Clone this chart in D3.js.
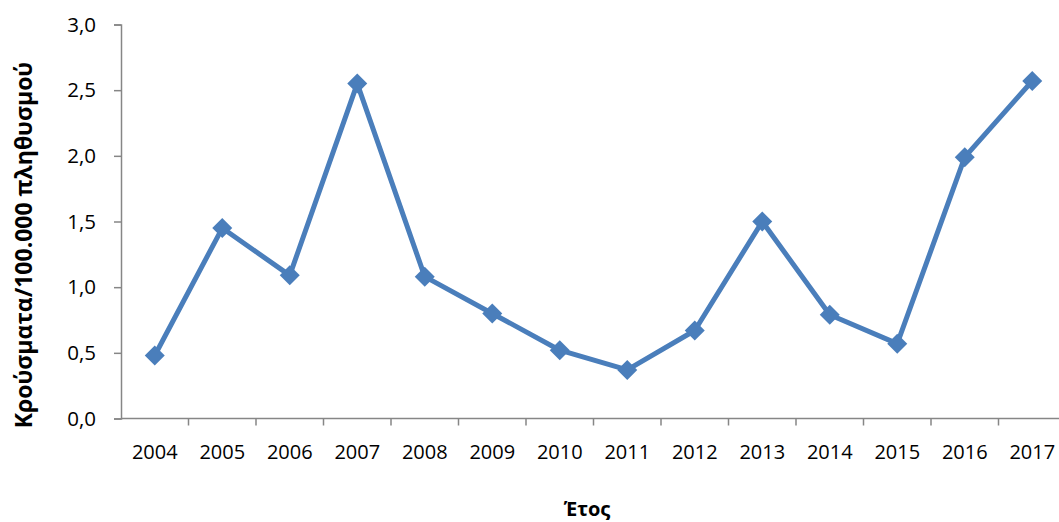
<!DOCTYPE html>
<html>
<head>
<meta charset="utf-8">
<script src="https://cdn.jsdelivr.net/npm/d3@7"></script>
<style>
  html, body { margin: 0; padding: 0; background: #fff; }
  svg { display: block; font-family: "Open Sans", "Noto Sans", sans-serif; }
</style>
</head>
<body>
<svg id="chart" width="1059" height="522"></svg>
<script>
// Annual incidence per 100,000 population
const years = ["2004","2005","2006","2007","2008","2009","2010","2011","2012","2013","2014","2015","2016","2017"];
const rates = [0.48, 1.45, 1.09, 2.55, 1.08, 0.80, 0.52, 0.37, 0.67, 1.50, 0.79, 0.57, 1.99, 2.57];
const yTicks = [0, 0.5, 1.0, 1.5, 2.0, 2.5, 3.0];

const svg = d3.select("#chart");
const plotLeft = 121, plotRight = 1066, plotTop = 24.5, plotBottom = 418.5;
const lineColor = "#4a7ebb";
const axisColor = "#868686";

const x = d3.scaleBand().domain(years).range([plotLeft, plotRight]);
const y = d3.scaleLinear().domain([0, 3]).range([plotBottom, plotTop]);
const fmt = d => d3.format(".1f")(d).replace(".", ",");

// Y axis
const yAxis = svg.append("g")
  .attr("transform", `translate(${plotLeft},0)`)
  .call(d3.axisLeft(y).tickValues(yTicks).tickFormat(fmt).tickSize(7).tickPadding(18));
yAxis.select(".domain").attr("stroke", axisColor).attr("stroke-width", 1.5);
yAxis.selectAll(".tick line").attr("stroke", axisColor).attr("stroke-width", 1.5);
yAxis.selectAll(".tick text").attr("font-size", 20.5).attr("fill", "#000")
  .attr("font-family", "'Open Sans', sans-serif");

// X axis: ticks sit on the band boundaries, labels on band centres
const xAxis = svg.append("g").attr("transform", `translate(0,${plotBottom})`);
xAxis.append("line").attr("x1", plotLeft).attr("x2", plotRight)
  .attr("stroke", axisColor).attr("stroke-width", 1.5);
xAxis.selectAll("line.tk").data(years)
  .join("line").attr("class", "tk")
  .attr("x1", d => x(d) + x.bandwidth())
  .attr("x2", d => x(d) + x.bandwidth())
  .attr("y1", 0).attr("y2", 7)
  .attr("stroke", axisColor).attr("stroke-width", 1.5);
xAxis.selectAll("text").data(years).join("text")
  .attr("x", d => x(d) + x.bandwidth() / 2)
  .attr("y", 40)
  .attr("text-anchor", "middle")
  .attr("font-size", 20)
  .attr("fill", "#000")
  .text(d => d);

// Series line
const line = d3.line()
  .x((d, i) => x(years[i]) + x.bandwidth() / 2)
  .y(d => y(d));
svg.append("path").datum(rates)
  .attr("d", line)
  .attr("fill", "none")
  .attr("stroke", lineColor)
  .attr("stroke-width", 5)
  .attr("stroke-linejoin", "round");

// Diamond markers
const diamond = d3.symbol().type(d3.symbolSquare).size(200);
svg.selectAll("path.marker").data(rates).join("path")
  .attr("class", "marker")
  .attr("d", diamond)
  .attr("transform", (d, i) => `translate(${x(years[i]) + x.bandwidth() / 2},${y(d)}) rotate(45)`)
  .attr("fill", lineColor);

// Axis titles
svg.append("text")
  .attr("x", 587).attr("y", 516)
  .attr("text-anchor", "middle")
  .attr("font-size", 20).attr("font-weight", "bold")
  .text("Έτος");

svg.append("text")
  .attr("transform", "translate(32,245) rotate(-90)")
  .attr("text-anchor", "middle")
  .attr("font-size", 23).attr("font-weight", "bold")
  .text("Κρούσματα/100.000 πληθυσμού");
</script>
</body>
</html>
